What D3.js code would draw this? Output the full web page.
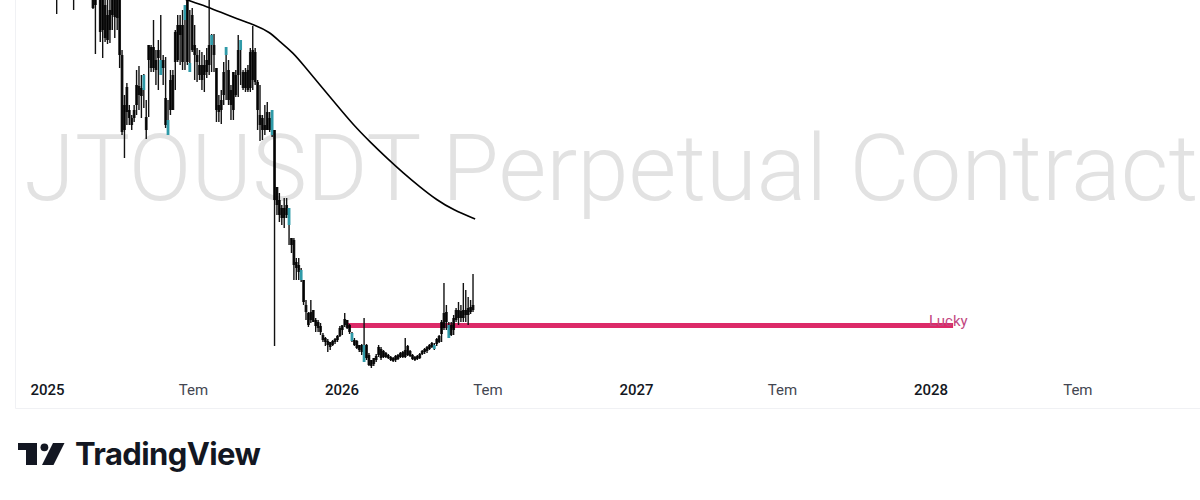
<!DOCTYPE html>
<html>
<head>
    <script src="https://d3js.org/d3.v7.min.js" charset="utf-8"></script>
    <style>
        body { margin: 0; background: #fff; }
        svg { display: block; }
    </style>
</head>
<body>
    <script>
        // 3 day candles, one value per step, starting at step 4
        var highs = [
            4.30,4.42,4.50,4.38,4.46,4.35,4.44,4.30,4.40,4.48,
            4.36,4.45,4.33,4.41,4.38,4.30,4.30,4.30,4.30,4.20,
            4.10,4.05,4.10,4.15,4.20,4.15,4.10,3.50,3.05,3.17,
            2.95,2.85,2.95,3.30,3.34,3.25,3.26,3.00,3.55,3.55,
            3.80,3.50,3.60,3.85,3.45,3.43,3.00,3.30,3.30,3.70,
            3.85,3.85,3.90,3.95,4.30,3.90,3.92,3.75,3.52,3.50,
            3.48,3.45,3.52,4.00,3.66,3.66,3.32,3.05,3.10,3.38,
            3.53,3.40,3.15,3.28,3.30,3.65,3.60,3.30,3.32,3.35,
            3.52,3.74,3.52,3.20,3.15,2.85,2.95,2.98,2.88,2.90,
            2.70,2.13,2.07,1.95,2.02,2.02,1.92,1.62,1.62,1.42,
            1.42,1.32,1.20,1.00,0.88,1.00,0.90,0.82,0.80,0.77,
            0.67,0.63,0.61,0.58,0.60,0.62,0.65,0.74,0.74,0.87,
            0.80,0.76,0.68,0.62,0.60,0.55,0.56,0.82,0.56,0.47,
            0.40,0.42,0.46,0.55,0.53,0.50,0.48,0.46,0.44,0.43,
            0.45,0.46,0.48,0.49,0.62,0.55,0.50,0.46,0.44,0.45,
            0.47,0.50,0.52,0.54,0.56,0.58,0.57,0.62,0.65,0.80,
            1.17,0.95,0.78,0.78,0.85,0.92,0.98,0.95,1.17,1.10,
            1.03,1.00,1.26
        ];
        var lows = [
            3.86,4.05,4.12,4.08,4.15,4.06,4.10,3.90,4.05,4.12,
            4.08,4.14,4.05,4.10,4.06,3.91,3.46,4.02,3.58,3.42,
            3.58,3.56,3.57,3.70,3.62,3.70,3.32,2.65,2.42,2.75,
            2.75,2.70,2.78,2.85,2.90,2.82,2.92,2.61,2.83,3.28,
            3.28,3.15,3.10,3.25,3.15,2.72,2.65,2.85,2.90,3.10,
            3.38,3.35,3.30,3.30,3.35,3.28,3.48,3.20,3.18,3.20,
            3.10,3.08,3.22,3.25,3.28,3.28,2.78,2.78,2.76,2.95,
            3.00,2.95,2.80,2.80,3.03,3.03,3.15,3.10,3.08,3.08,
            3.08,3.10,3.15,2.70,2.59,2.60,2.65,2.70,2.68,2.63,
            0.54,1.85,1.78,1.75,1.72,1.82,1.55,1.47,1.20,1.20,
            1.20,1.18,0.95,0.80,0.73,0.77,0.78,0.68,0.68,0.65,
            0.58,0.54,0.48,0.50,0.54,0.56,0.58,0.63,0.65,0.73,
            0.71,0.66,0.58,0.54,0.51,0.48,0.45,0.38,0.40,0.34,
            0.32,0.34,0.38,0.43,0.40,0.42,0.42,0.41,0.39,0.38,
            0.38,0.40,0.42,0.42,0.42,0.44,0.43,0.40,0.39,0.40,
            0.41,0.45,0.46,0.47,0.50,0.52,0.50,0.54,0.57,0.58,
            0.70,0.70,0.62,0.64,0.65,0.78,0.75,0.78,0.78,0.78,
            0.75,0.86,0.88
        ];
        var bodyTops = [
            4.20,4.30,4.38,4.28,4.35,4.25,4.33,4.20,4.30,4.36,
            4.26,4.34,4.24,4.30,4.28,4.20,4.20,4.20,4.10,4.00,
            3.95,3.85,3.90,4.00,4.05,4.05,4.05,3.45,2.95,3.13,
            2.90,2.82,2.90,3.15,3.14,3.12,3.25,2.83,3.55,3.53,
            3.53,3.40,3.50,3.40,3.40,3.02,2.80,3.20,3.25,3.68,
            3.75,3.75,3.75,3.95,4.00,3.37,3.85,3.55,3.45,3.35,
            3.35,3.35,3.40,3.55,3.65,3.55,3.32,2.95,3.00,3.28,
            3.53,3.30,3.10,3.28,3.25,3.50,3.60,3.28,3.28,3.30,
            3.48,3.50,3.48,3.18,2.85,2.82,2.75,2.88,2.82,2.90,
            2.70,2.13,2.00,1.92,1.92,1.95,1.92,1.62,1.60,1.38,
            1.35,1.30,1.20,0.95,0.87,0.88,0.90,0.80,0.78,0.74,
            0.65,0.62,0.59,0.58,0.59,0.61,0.64,0.72,0.75,0.81,
            0.80,0.75,0.67,0.60,0.59,0.55,0.55,0.55,0.55,0.45,
            0.40,0.42,0.44,0.53,0.51,0.49,0.47,0.45,0.43,0.42,
            0.44,0.45,0.47,0.48,0.50,0.54,0.49,0.45,0.43,0.44,
            0.46,0.49,0.51,0.53,0.55,0.57,0.55,0.61,0.64,0.78,
            0.87,0.88,0.75,0.75,0.82,0.90,0.90,0.89,0.90,0.90,
            0.92,0.93,0.95
        ];
        var bodyBottoms = [
            4.05,4.15,4.22,4.14,4.20,4.12,4.18,4.05,4.15,4.20,
            4.12,4.20,4.10,4.16,4.12,3.92,3.95,4.05,3.68,3.70,
            3.62,3.60,3.70,3.85,3.83,3.82,3.45,2.68,2.70,2.88,
            2.82,2.75,2.82,2.95,3.05,3.04,3.10,2.70,3.40,3.32,
            3.32,3.30,3.42,3.25,3.32,2.75,2.65,2.90,2.90,3.38,
            3.40,3.65,3.38,3.80,3.38,3.28,3.50,3.45,3.38,3.25,
            3.20,3.25,3.28,3.35,3.55,3.45,2.90,2.88,2.90,3.05,
            3.45,3.00,2.95,2.90,3.05,3.25,3.50,3.12,3.12,3.10,
            3.12,3.20,3.18,2.90,2.75,2.70,2.70,2.70,2.70,2.65,
            2.00,1.95,1.85,1.82,1.82,1.85,1.75,1.55,1.35,1.32,
            1.28,1.20,0.98,0.88,0.75,0.80,0.78,0.74,0.72,0.68,
            0.60,0.58,0.55,0.53,0.55,0.58,0.60,0.64,0.70,0.75,
            0.72,0.68,0.59,0.55,0.52,0.50,0.48,0.38,0.42,0.35,
            0.34,0.36,0.40,0.45,0.42,0.43,0.43,0.42,0.40,0.39,
            0.40,0.41,0.43,0.43,0.43,0.45,0.44,0.41,0.40,0.41,
            0.42,0.46,0.48,0.49,0.51,0.53,0.51,0.56,0.58,0.66,
            0.72,0.78,0.62,0.65,0.70,0.80,0.82,0.82,0.82,0.85,
            0.85,0.88,0.90
        ];
        var upSteps = [40,47,50,57,59,68,74,80,93,100,105,126,131,160,166];

        // moving average, read at these steps
        var maSteps = [52,58,66.5,71.5,78.5,86,92,96.3,101.8,105.9,112.8,119.7,126.6,133.5,140.4,147.2,154.1,161,167.9,176.9];
        var maValues = [4.05,4.00,3.93,3.88,3.81,3.75,3.68,3.58,3.47,3.35,3.15,2.95,2.75,2.58,2.42,2.27,2.13,2.00,1.90,1.81];

        var tickDates = ["2025-01-01","2025-07-01","2026-01-01","2026-07-01","2027-01-01","2027-07-01","2028-01-01","2028-07-01"];
        var lineStart = "2026-01-08", lineEnd = "2028-01-29", linePrice = 0.745;

        var svg = d3.select("body")
            .append("svg")
            .attr("width", "1200")
            .attr("height", "500")

        var x = d3.scaleTime()
            .domain([new Date("2025-01-01T00:00:00"), new Date("2026-01-01T00:00:00")])
            .range([47, 341.5]);
        var y = d3.scaleLinear().domain([0, 4]).range([400, 0]);

        var stepDate = function (s) { return d3.timeHour.offset(new Date("2025-01-01T00:00:00"), s * 72); };

        var green = "#2f9aa8";

        // pane border
        svg.append("path")
            .attr("d", "M15.5,0V408.5H1200")
            .style("fill", "none")
            .style("stroke", "#f0f1f4");

        svg.append("text")
            .attr("x", 24)
            .attr("y", 200)
            .style("font-family", "Roboto")
            .style("font-weight", 300)
            .style("font-size", "92.4px")
            .style("fill", "#e2e2e2")
            .text("JTOUSDT Perpetual Contract");

        // lucky line
        svg.append("line")
            .attr("x1", x(new Date(lineStart + "T00:00:00")))
            .attr("x2", x(new Date(lineEnd + "T00:00:00")))
            .attr("y1", y(linePrice))
            .attr("y2", y(linePrice))
            .style("stroke", "#dc2a68")
            .style("stroke-width", 5);
        svg.append("text")
            .attr("x", x(new Date(lineEnd + "T00:00:00")) - 24)
            .attr("y", y(linePrice))
            .style("font-family", "Roboto")
            .style("font-size", "15px")
            .style("fill", "#c2477f")
            .text("Lucky");

        var candles = d3.range(4, 177).map(function (s, i) {
            var up = upSteps.indexOf(s) >= 0;
            return { date: stepDate(s), high: highs[i], low: lows[i], top: bodyTops[i], bottom: bodyBottoms[i], up: up };
        });

        var g = svg.append("g");
        g.selectAll("line")
            .data(candles)
            .enter()
            .append("line")
            .attr("x1", function (d) { return x(d.date); })
            .attr("x2", function (d) { return x(d.date); })
            .attr("y1", function (d) { return y(d.high); })
            .attr("y2", function (d) { return y(d.low); })
            .style("stroke", "#111")
            .style("stroke-width", 1.4);
        g.selectAll("rect")
            .data(candles)
            .enter()
            .append("rect")
            .attr("x", function (d) { return x(d.date) - 1.4; })
            .attr("width", 2.8)
            .attr("y", function (d) { return y(d.top); })
            .attr("height", function (d) { return y(d.bottom) - y(d.top); })
            .style("fill", function (d) { return d.up ? green : "#000"; })
            .style("fill-opacity", function (d) { return d.up ? 1 : 0.85; });

        var maLine = d3.line()
            .x(function (d, i) { return x(stepDate(maSteps[i])); })
            .y(function (d) { return y(d); })
            .curve(d3.curveBasis);
        svg.append("path")
            .attr("d", maLine(maValues))
            .style("fill", "none")
            .style("stroke", "#000")
            .style("stroke-width", 1.6);

        // time axis
        var axis = d3.axisBottom(x)
            .tickValues(tickDates.map(function (d) { return new Date(d + "T00:00:00"); }))
            .tickSize(0)
            .tickFormat(function (d) { return d.getMonth() == 0 ? d.getFullYear() : "Tem"; });
        var ax = svg.append("g")
            .attr("transform", "translate(0,384)")
            .call(axis);
        ax.select(".domain").remove();
        ax.selectAll("text")
            .attr("y", 0)
            .attr("dy", "0.71em")
            .style("font-family", "Roboto")
            .style("font-size", "15px")
            .style("font-weight", function (d) { return d.getMonth() == 0 ? 500 : 400; })
            .style("fill", function (d) { return d.getMonth() == 0 ? "#131722" : "#434651"; });

        // logo
        var logo = svg.append("g").style("fill", "#131722");
        logo.append("path").attr("d", "M18,443H37V465H26V450H18Z");
        logo.append("circle").attr("cx", 44.4).attr("cy", 447.3).attr("r", 3.9);
        logo.append("path").attr("d", "M53,443H64.5L53.5,465H42Z");
        logo.append("text")
            .attr("x", 75)
            .attr("y", 465)
            .style("font-family", "Inter")
            .style("font-weight", 700)
            .style("font-size", "31px")
            .style("letter-spacing", "-0.6px")
            .text("TradingView");
    </script>
</body>
</html>
